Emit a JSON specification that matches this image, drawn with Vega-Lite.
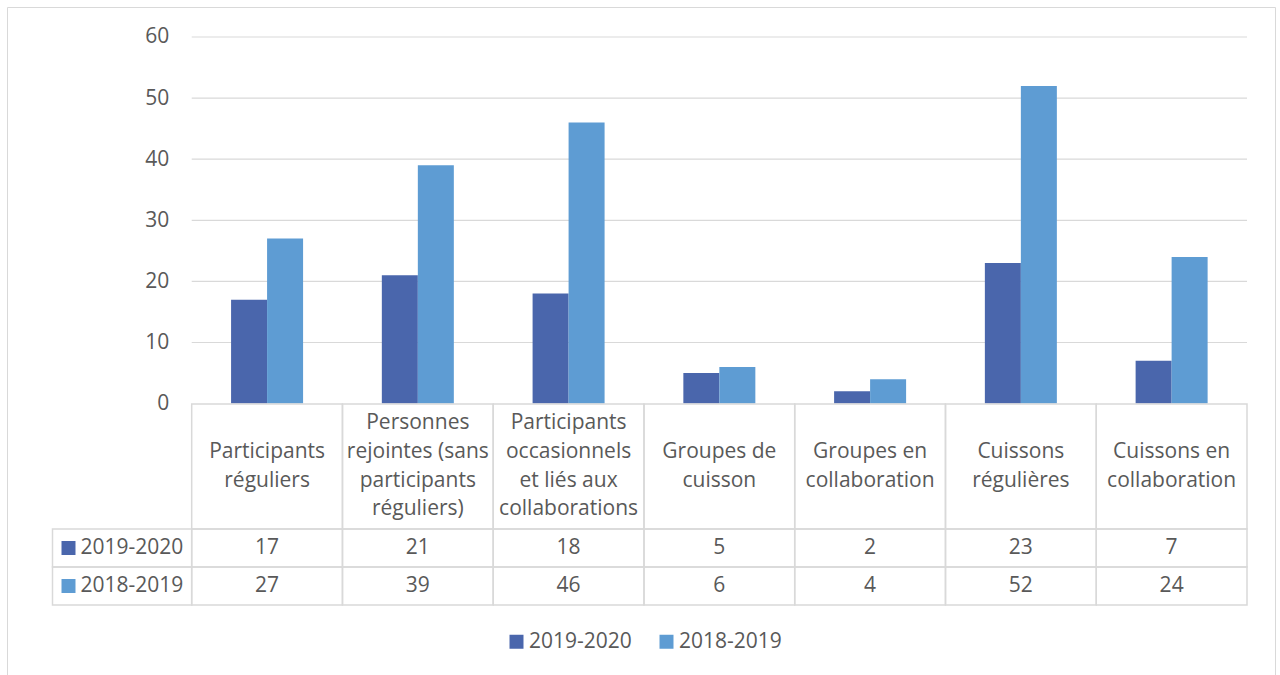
{
  "$schema": "https://vega.github.io/schema/vega-lite/v6.json",
  "width": 1268,
  "height": 670,
  "autosize": {"type": "none"},
  "padding": {"left": 7, "top": 7, "right": 5, "bottom": 0},
  "config": {
    "view": {"stroke": "#d9d9d9", "strokeWidth": 1},
    "font": "Open Sans",
    "text": {"font": "Open Sans", "fontSize": 21, "color": "#595959"}
  },
  "datasets": {
    "vals": [
      {"cat": "Participants réguliers", "series": "2019-2020", "value": 17},
      {"cat": "Personnes rejointes (sans participants réguliers)", "series": "2019-2020", "value": 21},
      {"cat": "Participants occasionnels et liés aux collaborations", "series": "2019-2020", "value": 18},
      {"cat": "Groupes de cuisson", "series": "2019-2020", "value": 5},
      {"cat": "Groupes en collaboration", "series": "2019-2020", "value": 2},
      {"cat": "Cuissons régulières", "series": "2019-2020", "value": 23},
      {"cat": "Cuissons en collaboration", "series": "2019-2020", "value": 7},
      {"cat": "Participants réguliers", "series": "2018-2019", "value": 27},
      {"cat": "Personnes rejointes (sans participants réguliers)", "series": "2018-2019", "value": 39},
      {"cat": "Participants occasionnels et liés aux collaborations", "series": "2018-2019", "value": 46},
      {"cat": "Groupes de cuisson", "series": "2018-2019", "value": 6},
      {"cat": "Groupes en collaboration", "series": "2018-2019", "value": 4},
      {"cat": "Cuissons régulières", "series": "2018-2019", "value": 52},
      {"cat": "Cuissons en collaboration", "series": "2018-2019", "value": 24}
    ],
    "cats": [
      {"cat": "Participants réguliers", "label": "Participants\nréguliers"},
      {"cat": "Personnes rejointes (sans participants réguliers)", "label": "Personnes\nrejointes (sans\nparticipants\nréguliers)"},
      {"cat": "Participants occasionnels et liés aux collaborations", "label": "Participants\noccasionnels\net liés aux\ncollaborations"},
      {"cat": "Groupes de cuisson", "label": "Groupes de\ncuisson"},
      {"cat": "Groupes en collaboration", "label": "Groupes en\ncollaboration"},
      {"cat": "Cuissons régulières", "label": "Cuissons\nrégulières"},
      {"cat": "Cuissons en collaboration", "label": "Cuissons en\ncollaboration"}
    ],
    "series": [
      {"series": "2019-2020"},
      {"series": "2018-2019"}
    ],
    "grid": [
      {"v": 10, "first": "Participants réguliers", "last": "Cuissons en collaboration"},
      {"v": 20, "first": "Participants réguliers", "last": "Cuissons en collaboration"},
      {"v": 30, "first": "Participants réguliers", "last": "Cuissons en collaboration"},
      {"v": 40, "first": "Participants réguliers", "last": "Cuissons en collaboration"},
      {"v": 50, "first": "Participants réguliers", "last": "Cuissons en collaboration"},
      {"v": 60, "first": "Participants réguliers", "last": "Cuissons en collaboration"}
    ]
  },
  "resolve": {"scale": {"x": "independent", "y": "independent"}},
  "layer": [
    {
      "data": {"name": "grid"},
      "mark": {"type": "rule", "color": "#d9d9d9", "strokeWidth": 1.2},
      "encoding": {
        "x": {"field": "first", "type": "nominal", "bandPosition": 0, "axis": null,
              "scale": {"type": "band", "domain": ["Participants réguliers", "Personnes rejointes (sans participants réguliers)", "Participants occasionnels et liés aux collaborations", "Groupes de cuisson", "Groupes en collaboration", "Cuissons régulières", "Cuissons en collaboration"], "paddingInner": 0, "range": [184.7, 1240]}},
        "x2": {"field": "last", "bandPosition": 1},
        "y": {"field": "v", "type": "quantitative", "axis": null,
              "scale": {"domain": [-44.75, 64.91], "nice": false, "zero": false}}
      }
    },
    {
      "data": {"name": "vals"},
      "mark": {"type": "bar"},
      "encoding": {
        "x": {"field": "cat", "type": "nominal", "axis": null,
              "scale": {"type": "band", "domain": ["Participants réguliers", "Personnes rejointes (sans participants réguliers)", "Participants occasionnels et liés aux collaborations", "Groupes de cuisson", "Groupes en collaboration", "Cuissons régulières", "Cuissons en collaboration"], "paddingInner": 0.5224, "paddingOuter": 0.2612, "range": [184.7, 1240]}},
        "xOffset": {"field": "series", "type": "nominal",
                    "scale": {"domain": ["2019-2020", "2018-2019"], "paddingInner": 0, "paddingOuter": 0}},
        "y": {"field": "value", "type": "quantitative", "stack": null,
              "scale": {"domain": [-44.75, 64.91], "nice": false, "zero": false},
              "axis": {"orient": "left", "values": [0, 10, 20, 30, 40, 50, 60], "grid": false, "domain": false, "ticks": false,
                       "offset": -184.7, "labelPadding": 23, "labelFont": "Open Sans", "labelFontSize": 21, "labelColor": "#595959", "title": null}},
        "color": {"field": "series", "type": "nominal",
                  "scale": {"domain": ["2019-2020", "2018-2019"], "range": ["#4A66AC", "#5E9CD3"]},
                  "legend": {"orient": "none", "legendX": 499, "legendY": 624, "direction": "horizontal", "title": null,
                             "symbolType": "square", "symbolSize": 196, "symbolStrokeWidth": 0, "labelFont": "Open Sans",
                             "labelFontSize": 21, "labelColor": "#595959", "labelOffset": 2, "columnPadding": 24, "padding": 0}}
      }
    },
    {
      "data": {"name": "cats"},
      "mark": {"type": "rect", "fill": "transparent", "stroke": "#d9d9d9", "strokeWidth": 1.5},
      "encoding": {
        "x": {"field": "cat", "type": "nominal", "axis": null,
              "scale": {"type": "band", "domain": ["Participants réguliers", "Personnes rejointes (sans participants réguliers)", "Participants occasionnels et liés aux collaborations", "Groupes de cuisson", "Groupes en collaboration", "Cuissons régulières", "Cuissons en collaboration"], "paddingInner": 0, "range": [184.7, 1240]}},
        "y": {"datum": "labels", "type": "nominal", "axis": null,
              "scale": {"type": "band", "domain": ["labels"], "paddingInner": 0, "paddingOuter": 0, "range": [397, 522]}}
      }
    },
    {
      "data": {"name": "cats"},
      "transform": [{"filter": {"not": {"field": "cat", "oneOf": ["Personnes rejointes (sans participants réguliers)", "Participants occasionnels et liés aux collaborations"]}}}],
      "mark": {"type": "text", "lineBreak": "\n", "lineHeight": 28.7, "baseline": "middle", "align": "center", "dy": -14.5},
      "encoding": {
        "x": {"field": "cat", "type": "nominal", "axis": null,
              "scale": {"type": "band", "domain": ["Participants réguliers", "Personnes rejointes (sans participants réguliers)", "Participants occasionnels et liés aux collaborations", "Groupes de cuisson", "Groupes en collaboration", "Cuissons régulières", "Cuissons en collaboration"], "paddingInner": 0, "range": [184.7, 1240]}},
        "y": {"datum": "labels", "type": "nominal", "axis": null,
              "scale": {"type": "band", "domain": ["labels"], "paddingInner": 0, "paddingOuter": 0, "range": [397, 522]}},
        "text": {"field": "label", "type": "nominal"}
      }
    },
    {
      "data": {"name": "cats"},
      "transform": [{"filter": {"field": "cat", "oneOf": ["Personnes rejointes (sans participants réguliers)", "Participants occasionnels et liés aux collaborations"]}}],
      "mark": {"type": "text", "lineBreak": "\n", "lineHeight": 28.7, "baseline": "middle", "align": "center", "dy": -43.2},
      "encoding": {
        "x": {"field": "cat", "type": "nominal", "axis": null,
              "scale": {"type": "band", "domain": ["Participants réguliers", "Personnes rejointes (sans participants réguliers)", "Participants occasionnels et liés aux collaborations", "Groupes de cuisson", "Groupes en collaboration", "Cuissons régulières", "Cuissons en collaboration"], "paddingInner": 0, "range": [184.7, 1240]}},
        "y": {"datum": "labels", "type": "nominal", "axis": null,
              "scale": {"type": "band", "domain": ["labels"], "paddingInner": 0, "paddingOuter": 0, "range": [397, 522]}},
        "text": {"field": "label", "type": "nominal"}
      }
    },
    {
      "data": {"name": "vals"},
      "mark": {"type": "rect", "fill": "transparent", "stroke": "#d9d9d9", "strokeWidth": 1.5},
      "encoding": {
        "x": {"field": "cat", "type": "nominal", "axis": null,
              "scale": {"type": "band", "domain": ["Participants réguliers", "Personnes rejointes (sans participants réguliers)", "Participants occasionnels et liés aux collaborations", "Groupes de cuisson", "Groupes en collaboration", "Cuissons régulières", "Cuissons en collaboration"], "paddingInner": 0, "range": [184.7, 1240]}},
        "y": {"field": "series", "type": "nominal", "axis": null,
              "scale": {"type": "band", "domain": ["2019-2020", "2018-2019"], "paddingInner": 0, "paddingOuter": 0, "range": [522, 598]}}
      }
    },
    {
      "data": {"name": "vals"},
      "mark": {"type": "text", "baseline": "middle", "align": "center"},
      "encoding": {
        "x": {"field": "cat", "type": "nominal", "axis": null,
              "scale": {"type": "band", "domain": ["Participants réguliers", "Personnes rejointes (sans participants réguliers)", "Participants occasionnels et liés aux collaborations", "Groupes de cuisson", "Groupes en collaboration", "Cuissons régulières", "Cuissons en collaboration"], "paddingInner": 0, "range": [184.7, 1240]}},
        "y": {"field": "series", "type": "nominal", "axis": null,
              "scale": {"type": "band", "domain": ["2019-2020", "2018-2019"], "paddingInner": 0, "paddingOuter": 0, "range": [522, 598]}},
        "text": {"field": "value", "type": "quantitative"}
      }
    },
    {
      "data": {"name": "series"},
      "mark": {"type": "rect", "fill": "transparent", "stroke": "#d9d9d9", "strokeWidth": 1.5},
      "encoding": {
        "x": {"datum": "hdr", "type": "nominal", "axis": null,
              "scale": {"type": "band", "domain": ["hdr"], "paddingInner": 0, "paddingOuter": 0, "range": [45.5, 184.7]}},
        "y": {"field": "series", "type": "nominal", "axis": null,
              "scale": {"type": "band", "domain": ["2019-2020", "2018-2019"], "paddingInner": 0, "paddingOuter": 0, "range": [522, 598]}}
      }
    },
    {
      "data": {"name": "series"},
      "mark": {"type": "point", "shape": "square", "filled": true, "size": 196, "opacity": 1, "xOffset": 16},
      "encoding": {
        "x": {"datum": "hdr", "type": "nominal", "bandPosition": 0, "axis": null,
              "scale": {"type": "band", "domain": ["hdr"], "paddingInner": 0, "paddingOuter": 0, "range": [45.5, 184.7]}},
        "y": {"field": "series", "type": "nominal", "axis": null,
              "scale": {"type": "band", "domain": ["2019-2020", "2018-2019"], "paddingInner": 0, "paddingOuter": 0, "range": [522, 598]}},
        "color": {"field": "series", "type": "nominal",
                  "scale": {"domain": ["2019-2020", "2018-2019"], "range": ["#4A66AC", "#5E9CD3"]},
                  "legend": {"orient": "none", "legendX": 499, "legendY": 624, "direction": "horizontal", "title": null,
                             "symbolType": "square", "symbolSize": 196, "symbolStrokeWidth": 0, "labelFont": "Open Sans",
                             "labelFontSize": 21, "labelColor": "#595959", "labelOffset": 2, "columnPadding": 24, "padding": 0}}
      }
    },
    {
      "data": {"name": "series"},
      "mark": {"type": "text", "baseline": "middle", "align": "left", "dx": 28},
      "encoding": {
        "x": {"datum": "hdr", "type": "nominal", "bandPosition": 0, "axis": null,
              "scale": {"type": "band", "domain": ["hdr"], "paddingInner": 0, "paddingOuter": 0, "range": [45.5, 184.7]}},
        "y": {"field": "series", "type": "nominal", "axis": null,
              "scale": {"type": "band", "domain": ["2019-2020", "2018-2019"], "paddingInner": 0, "paddingOuter": 0, "range": [522, 598]}},
        "text": {"field": "series", "type": "nominal"}
      }
    }
  ]
}
